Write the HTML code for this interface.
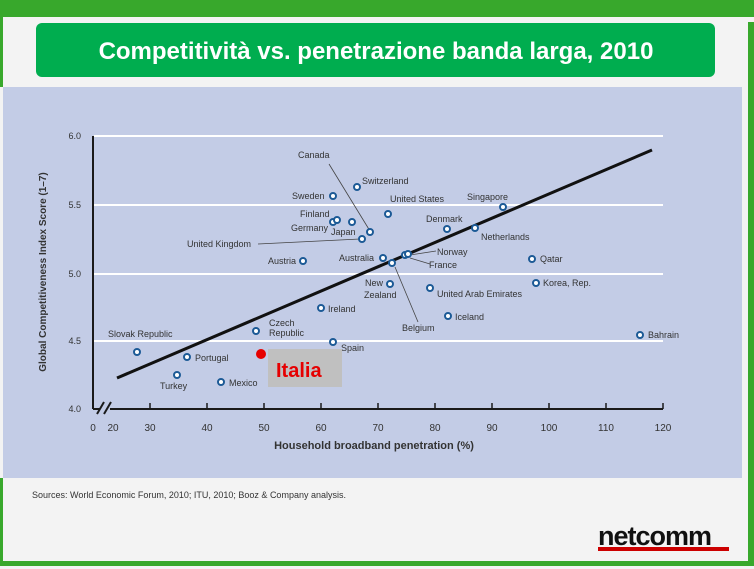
<!DOCTYPE html>
<html><head><meta charset="utf-8"><style>
html,body{margin:0;padding:0;width:754px;height:569px;overflow:hidden;background:#f4f4f4;font-family:"Liberation Sans",sans-serif}
</style></head><body>
<svg width="754" height="569" viewBox="0 0 754 569" xmlns="http://www.w3.org/2000/svg" font-family="Liberation Sans, sans-serif">
<rect x="0" y="0" width="754" height="569" fill="#f3f3f3"/>
<rect x="0" y="0" width="754" height="17" fill="#38a82c"/>
<rect x="0" y="17" width="3" height="70" fill="#38a82c"/>
<rect x="0" y="478" width="3" height="88" fill="#38a82c"/>
<rect x="748" y="22" width="6" height="544" fill="#38a82c"/>
<rect x="0" y="561" width="754" height="5" fill="#38a82c"/>
<rect x="36" y="23" width="679" height="54" rx="6" fill="#00ad4f"/>
<text x="376" y="59" text-anchor="middle" font-size="24" font-weight="bold" fill="#fff">Competitività vs. penetrazione banda larga, 2010</text>
<rect x="3" y="87" width="739" height="391" fill="#c3cce6"/>
<g stroke="#fff" stroke-width="2">
<line x1="94" y1="136" x2="663" y2="136"/><line x1="94" y1="205" x2="663" y2="205"/>
<line x1="94" y1="274" x2="663" y2="274"/><line x1="94" y1="341" x2="663" y2="341"/>
</g>
<g stroke="#1a1a1a" stroke-width="2" fill="none">
<line x1="93" y1="136" x2="93" y2="409"/>
<line x1="93" y1="409" x2="100" y2="409"/><line x1="110" y1="409" x2="663" y2="409"/>
<line x1="97" y1="414" x2="104" y2="402"/><line x1="104" y1="414" x2="111" y2="402"/>
</g>
<g stroke="#1a1a1a" stroke-width="1.5">
<line x1="150" y1="403" x2="150" y2="409"/><line x1="207" y1="403" x2="207" y2="409"/><line x1="264" y1="403" x2="264" y2="409"/><line x1="321" y1="403" x2="321" y2="409"/><line x1="378" y1="403" x2="378" y2="409"/><line x1="435" y1="403" x2="435" y2="409"/><line x1="492" y1="403" x2="492" y2="409"/><line x1="549" y1="403" x2="549" y2="409"/><line x1="606" y1="403" x2="606" y2="409"/><line x1="663" y1="403" x2="663" y2="409"/>
</g>
<g font-size="10" fill="#333" text-anchor="middle">
<text x="93" y="431">0</text><text x="113" y="431">20</text><text x="150" y="431">30</text><text x="207" y="431">40</text><text x="264" y="431">50</text><text x="321" y="431">60</text><text x="378" y="431">70</text><text x="435" y="431">80</text><text x="492" y="431">90</text><text x="549" y="431">100</text><text x="606" y="431">110</text><text x="663" y="431">120</text>
</g>
<g font-size="9" fill="#333" text-anchor="end">
<text x="81" y="139">6.0</text><text x="81" y="208">5.5</text><text x="81" y="277">5.0</text><text x="81" y="344">4.5</text><text x="81" y="412">4.0</text>
</g>
<text x="374" y="449" text-anchor="middle" font-size="11" font-weight="bold" fill="#333">Household broadband penetration (%)</text>
<text transform="translate(46,272) rotate(-90)" text-anchor="middle" font-size="10" font-weight="bold" fill="#333">Global Competitiveness Index Score (1–7)</text>
<line x1="117" y1="378" x2="652" y2="150" stroke="#111" stroke-width="3"/>
<g stroke="#444" stroke-width="0.8">
<line x1="329" y1="164" x2="370" y2="231"/><line x1="258" y1="244" x2="360" y2="239"/>
<line x1="410" y1="255" x2="436" y2="251"/><line x1="410" y1="258" x2="430" y2="264"/>
<line x1="395" y1="267" x2="418" y2="322"/>
</g>
<g fill="#fff" stroke="#1c5a96" stroke-width="2">
<circle cx="357" cy="187" r="3"/><circle cx="333" cy="196" r="3"/><circle cx="388" cy="214" r="3"/><circle cx="503" cy="207" r="3"/>
<circle cx="333" cy="222" r="3"/><circle cx="337" cy="220" r="3"/><circle cx="352" cy="222" r="3"/><circle cx="370" cy="232" r="3"/><circle cx="362" cy="239" r="3"/>
<circle cx="447" cy="229" r="3"/><circle cx="475" cy="228" r="3"/><circle cx="383" cy="258" r="3"/><circle cx="405" cy="255" r="3"/><circle cx="408" cy="254" r="3"/><circle cx="392" cy="263" r="3"/>
<circle cx="303" cy="261" r="3"/><circle cx="532" cy="259" r="3"/><circle cx="536" cy="283" r="3"/><circle cx="390" cy="284" r="3"/><circle cx="430" cy="288" r="3"/>
<circle cx="321" cy="308" r="3"/><circle cx="448" cy="316" r="3"/><circle cx="256" cy="331" r="3"/><circle cx="333" cy="342" r="3"/><circle cx="640" cy="335" r="3"/>
<circle cx="137" cy="352" r="3"/><circle cx="187" cy="357" r="3"/><circle cx="177" cy="375" r="3"/><circle cx="221" cy="382" r="3"/>
</g>
<g font-size="9" fill="#333">
<text x="298" y="158">Canada</text><text x="362" y="184">Switzerland</text><text x="292" y="199">Sweden</text>
<text x="390" y="202">United States</text><text x="467" y="200">Singapore</text>
<text x="300" y="217">Finland</text><text x="291" y="231">Germany</text><text x="331" y="235">Japan</text>
<text x="187" y="247">United Kingdom</text><text x="426" y="222">Denmark</text><text x="481" y="240">Netherlands</text>
<text x="268" y="264">Austria</text><text x="339" y="261">Australia</text><text x="437" y="255">Norway</text><text x="429" y="268">France</text>
<text x="540" y="262">Qatar</text><text x="543" y="286">Korea, Rep.</text>
<text x="365" y="286">New</text><text x="364" y="298">Zealand</text><text x="437" y="297">United Arab Emirates</text>
<text x="328" y="312">Ireland</text><text x="455" y="320">Iceland</text><text x="402" y="331">Belgium</text>
<text x="269" y="326">Czech</text><text x="269" y="336">Republic</text><text x="341" y="351">Spain</text><text x="648" y="338">Bahrain</text>
<text x="108" y="337">Slovak Republic</text><text x="195" y="361">Portugal</text><text x="160" y="389">Turkey</text><text x="229" y="386">Mexico</text>
</g>
<rect x="268" y="349" width="74" height="38" fill="#c0c0c0"/>
<circle cx="261" cy="354" r="5" fill="#e60000"/>
<text x="276" y="377" font-size="20" font-weight="bold" fill="#e60000">Italia</text>
<text x="32" y="498" font-size="9" fill="#333">Sources: World Economic Forum, 2010; ITU, 2010; Booz &amp; Company analysis.</text>
<text x="598" y="545" font-size="27" font-weight="bold" fill="#111" letter-spacing="-1">netcomm</text>
<rect x="598" y="547" width="131" height="4" fill="#c00"/>
</svg>
</body></html>
